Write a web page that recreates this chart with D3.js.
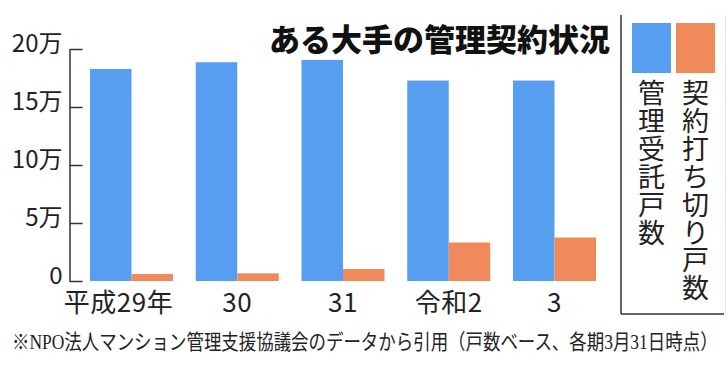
<!DOCTYPE html>
<html>
<meta charset="utf-8">
<script src="https://d3js.org/d3.v7.js"></script>
<style>
    body { margin: 0; background: #fff; }
    svg { display: block; }
</style>
<body>
    <div id="chart"></div>
    <script>

        // data (households)
        var years = ["平成29年", "30", "31", "令和2", "3"];
        var managed = [182800, 188600, 190600, 172800, 172800];     // 管理受託戸数
        var terminated = [6000, 6600, 10300, 33200, 37500];         // 契約打ち切り戸数
        var yTicks = [0, 50000, 100000, 150000, 200000];

        var seriesKeys = ["managed", "terminated"];
        var seriesNames = ["管理受託戸数", "契約打ち切り戸数"];
        var colors = { managed: "#589ef0", terminated: "#f18a5a" };

        var title = "ある大手の管理契約状況";
        var note = "※NPO法人マンション管理支援協議会のデータから引用（戸数ベース、各期3月31日時点）";

        var width = 728, height = 369;
        var jp = "'Noto Sans CJK JP', 'Noto Sans', sans-serif";

        var rows = years.map(function (y, i) {
            return { year: y, managed: managed[i], terminated: terminated[i] };
        });

        var svg = d3.select("#chart")
            .append("svg")
            .attr("width", width)
            .attr("height", height);

        // scales
        var x0 = d3.scaleBand()
            .domain(years)
            .range([90, 596])
            .paddingInner(0.215)
            .paddingOuter(0);

        var x1 = d3.scaleBand()
            .domain(seriesKeys)
            .range([0, x0.bandwidth()])
            .padding(0);

        var y = d3.scaleLinear()
            .domain([0, 200000])
            .range([281, 49]);

        // bars
        var groups = svg.append("g")
            .selectAll("g")
            .data(rows)
            .enter()
            .append("g")
            .attr("transform", function (d) { return "translate(" + x0(d.year) + ",0)"; });

        groups.selectAll("rect")
            .data(function (d) { return seriesKeys.map(function (k) { return { key: k, value: d[k] }; }); })
            .enter()
            .append("rect")
            .attr("x", function (d) { return x1(d.key); })
            .attr("y", function (d) { return y(d.value); })
            .attr("width", x1.bandwidth())
            .attr("height", function (d) { return y(0) - y(d.value); })
            .attr("fill", function (d) { return colors[d.key]; });

        // y axis: ticks point right, labels on the left
        var yAxis = svg.append("g")
            .attr("transform", "translate(69.5,0)")
            .call(d3.axisLeft(y)
                .tickValues(yTicks)
                .tickSizeInner(-13)
                .tickSizeOuter(0)
                .tickPadding(7)
                .tickFormat(function (d) { return d === 0 ? "0" : (d / 10000) + "万"; }));

        yAxis.select(".domain").attr("stroke", "#333").attr("stroke-width", 1.5);
        yAxis.selectAll(".tick line").attr("stroke", "#333").attr("stroke-width", 1.5);
        yAxis.selectAll(".tick text")
            .attr("dy", "2px")
            .attr("fill", "#222")
            .style("font-family", jp)
            .style("font-size", "24px");

        // x labels under each group
        svg.append("g")
            .selectAll("text")
            .data(years)
            .enter()
            .append("text")
            .attr("x", function (d) { return x0(d) + x0.bandwidth() / 2; })
            .attr("y", 312)
            .attr("dx", function (d) { return d.indexOf("平成") === 0 ? "-0.5em" : 0; })
            .attr("text-anchor", "middle")
            .attr("fill", "#222")
            .style("font-family", jp)
            .style("font-size", "26px")
            .style("letter-spacing", "0.5px")
            .text(function (d) { return d; });

        // title
        svg.append("text")
            .attr("x", 269)
            .attr("y", 51)
            .attr("fill", "#111")
            .style("font-family", jp)
            .style("font-size", "31px")
            .style("font-weight", 900)
            .text(title);

        // legend box
        svg.append("line")
            .attr("x1", 621).attr("x2", 621).attr("y1", 15).attr("y2", 314)
            .attr("stroke", "#333").attr("stroke-width", 1.5);
        svg.append("line")
            .attr("x1", 621).attr("x2", 724).attr("y1", 314).attr("y2", 314)
            .attr("stroke", "#333").attr("stroke-width", 1.5);
        svg.append("line")
            .attr("x1", 725.5).attr("x2", 725.5).attr("y1", 15).attr("y2", 314)
            .attr("stroke", "#e4e4e4").attr("stroke-width", 1);

        var legendX = [632, 676];
        var legend = svg.append("g")
            .selectAll("g")
            .data(seriesKeys)
            .enter()
            .append("g")
            .attr("transform", function (d, i) { return "translate(" + legendX[i] + ",0)"; });

        legend.append("rect")
            .attr("x", 0)
            .attr("y", 23)
            .attr("width", 39)
            .attr("height", 50)
            .attr("fill", function (d) { return colors[d]; });

        // vertical legend labels, one character per line
        legend.each(function (d, i) {
            var chars = Array.from(seriesNames[i]);
            d3.select(this).selectAll("text")
                .data(chars)
                .enter()
                .append("text")
                .attr("x", 19.5)
                .attr("y", function (c, j) { return 103 + j * 27.9; })
                .attr("text-anchor", "middle")
                .attr("fill", "#222")
                .style("font-family", jp)
                .style("font-size", "27px")
                .text(function (c) { return c; });
        });

        // source note, squeezed to fit the width
        var noteText = svg.append("text")
            .attr("fill", "#222")
            .style("font-family", "'Liberation Serif', 'DejaVu Serif', 'Noto Sans CJK JP', serif")
            .style("font-size", "21px")
            .text(note);
        var noteLen = noteText.node().getComputedTextLength();
        noteText.attr("transform", "translate(12,349) scale(" + (706 / noteLen) + ",1)");

    </script>
</body>

</html>
